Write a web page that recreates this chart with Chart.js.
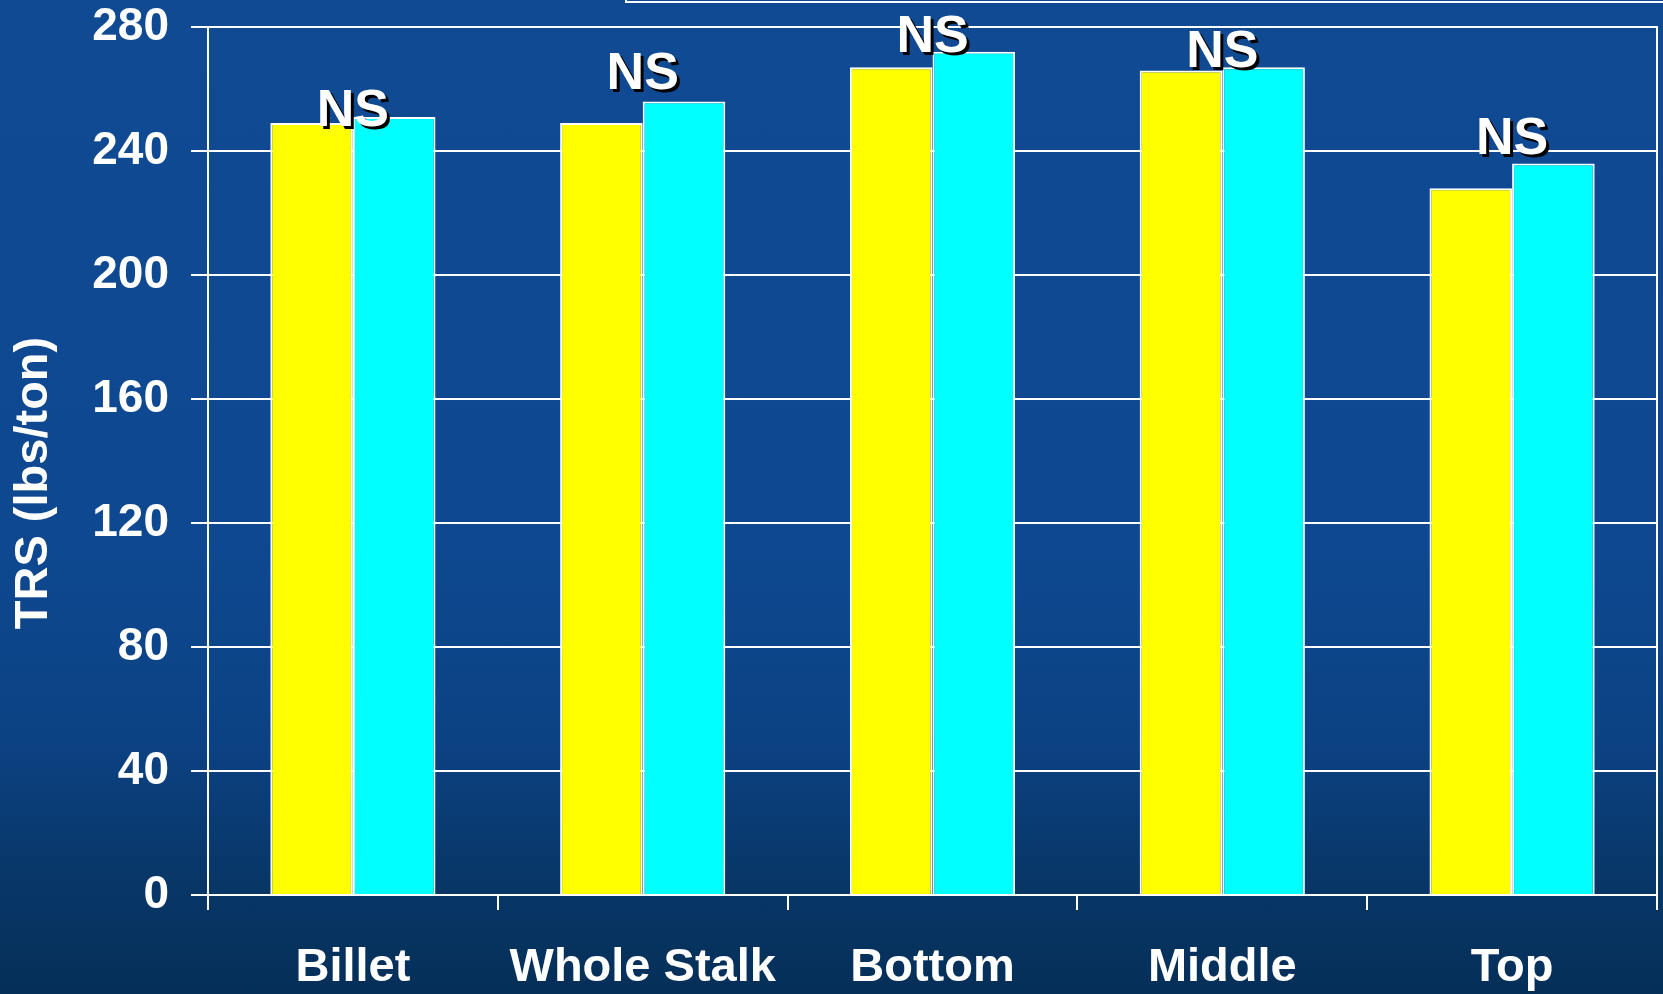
<!DOCTYPE html>
<html>
<head>
<meta charset="utf-8">
<script src="https://cdn.jsdelivr.net/npm/chart.js@4.4.1/dist/chart.umd.min.js"></script>
<style>
    html, body {
        margin: 0;
        padding: 0;
        width: 1663px;
        height: 994px;
        overflow: hidden;
    }
    body {
        background: linear-gradient(to bottom, #0f4a92 0%, #0e4890 55%, #0c4283 75%, #083768 88%, #052f58 100%);
    }
    canvas {
        display: block;
    }
</style>
</head>
<body>
<canvas id="trsChart" width="1663" height="994"></canvas>
<script>
// Categories and values
const categories = ['Billet', 'Whole Stalk', 'Bottom', 'Middle', 'Top'];
const yellowSeries = [249, 249, 267, 266, 228];
const cyanSeries = [251, 256, 272, 267, 236];
const nsLabels = ['NS', 'NS', 'NS', 'NS', 'NS'];
// where each NS label sits (baseline, in TRS units)
const nsPos = [248, 260, 272, 267, 239];
const yTicks = [0, 40, 80, 120, 160, 200, 240, 280];
const yTitle = 'TRS (lbs/ton)';

const FONT = '"Liberation Sans", Arial, sans-serif';

// Cut-off box at the top of the slide
const topBoxPlugin = {
    id: 'topBox',
    beforeDraw(chart) {
        const ctx = chart.ctx;
        ctx.save();
        ctx.strokeStyle = '#ffffff';
        ctx.lineWidth = 2;
        ctx.strokeRect(626, -20, 1200, 22);
        ctx.restore();
    }
};

// y axis title, sits a bit below the middle of the axis like on the slide
const yTitlePlugin = {
    id: 'yTitle',
    afterDraw(chart) {
        const ctx = chart.ctx;
        const area = chart.chartArea;
        ctx.save();
        ctx.translate(34, (area.top + area.bottom) / 2 + 22);
        ctx.rotate(-Math.PI / 2);
        ctx.font = 'bold 47px ' + FONT;
        ctx.fillStyle = '#ffffff';
        ctx.textAlign = 'center';
        ctx.textBaseline = 'middle';
        ctx.fillText(yTitle, 0, 0);
        ctx.restore();
    }
};

// "NS" labels over each pair of bars
const nsPlugin = {
    id: 'nsLabels',
    afterDatasetsDraw(chart) {
        const ctx = chart.ctx;
        const x = chart.scales.x;
        const y = chart.scales.y;
        ctx.save();
        ctx.font = 'bold 52px ' + FONT;
        ctx.textAlign = 'center';
        ctx.textBaseline = 'alphabetic';
        nsLabels.forEach((txt, i) => {
            const px = x.getPixelForValue(i);
            const py = y.getPixelForValue(nsPos[i]);
            ctx.fillStyle = '#000000';
            ctx.fillText(txt, px + 3, py + 3);
            ctx.fillStyle = '#ffffff';
            ctx.fillText(txt, px, py);
        });
        ctx.restore();
    }
};

const ctx = document.getElementById('trsChart').getContext('2d');
const chart = new Chart(ctx, {
    type: 'bar',
    data: {
        labels: categories,
        datasets: [
            {
                label: 'Series 1',
                data: yellowSeries,
                backgroundColor: '#ffff00',
                borderColor: '#ffffff',
                borderWidth: 2,
                borderSkipped: 'bottom'
            },
            {
                label: 'Series 2',
                data: cyanSeries,
                backgroundColor: '#00ffff',
                borderColor: '#ffffff',
                borderWidth: 2,
                borderSkipped: 'bottom'
            }
        ]
    },
    options: {
        responsive: false,
        maintainAspectRatio: false,
        animation: false,
        devicePixelRatio: 1,
        categoryPercentage: 0.57,
        barPercentage: 1.0,
        layout: {
            padding: { top: 27, left: 0, right: 0, bottom: 0 }
        },
        plugins: {
            legend: { display: false },
            tooltip: { enabled: false }
        },
        scales: {
            x: {
                offset: true,
                grid: {
                    offset: true,
                    drawOnChartArea: false,
                    drawTicks: true,
                    tickLength: 15,
                    color: '#ffffff',
                    lineWidth: 2
                },
                border: { display: true, color: '#ffffff', width: 2 },
                ticks: {
                    color: '#ffffff',
                    padding: 30,
                    maxRotation: 0,
                    font: { family: FONT, size: 47, weight: 'bold' }
                },
                afterFit: s => { s.height = 99; s.paddingLeft = 0; s.paddingRight = 0; }
            },
            y: {
                position: 'left',
                min: 0,
                max: 280,
                afterBuildTicks: s => { s.ticks = yTicks.map(v => ({ value: v })); },
                grid: {
                    color: '#ffffff',
                    lineWidth: 2,
                    tickLength: 17
                },
                border: { display: true, color: '#ffffff', width: 2 },
                ticks: {
                    color: '#ffffff',
                    padding: 22,
                    font: { family: FONT, size: 46, weight: 'bold' }
                },
                afterFit: s => { s.width = 208; s.paddingTop = 0; s.paddingBottom = 0; }
            },
            yr: {
                position: 'right',
                min: 0,
                max: 280,
                grid: { display: false },
                ticks: { display: false },
                border: { display: true, color: '#ffffff', width: 2 },
                afterFit: s => { s.width = 6; s.paddingTop = 0; s.paddingBottom = 0; }
            }
        }
    },
    plugins: [topBoxPlugin, yTitlePlugin, nsPlugin]
});
</script>
</body>
</html>
